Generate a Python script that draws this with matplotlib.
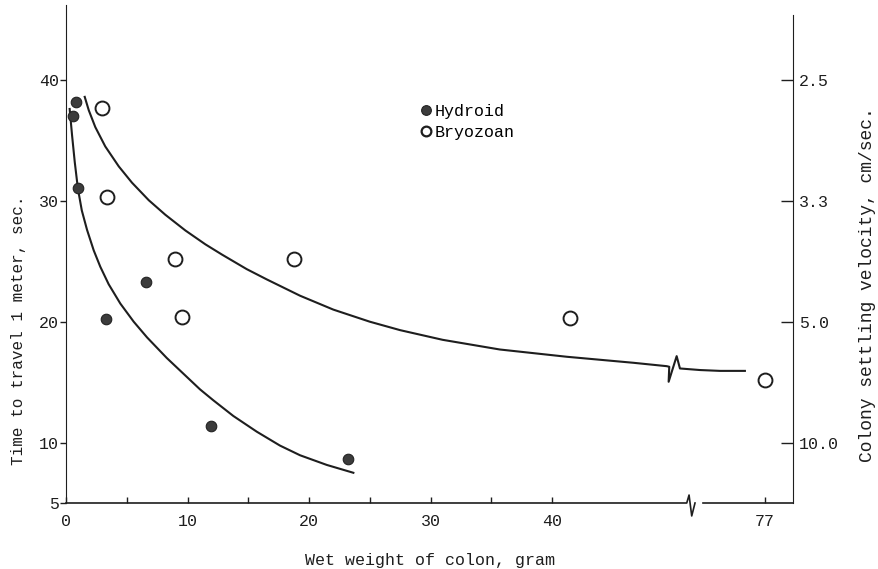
import numpy as np
import matplotlib
matplotlib.use('Agg')
from matplotlib import pyplot as plt
from matplotlib.lines import Line2D
from matplotlib.transforms import blended_transform_factory

plt.rcParams['font.family'] = ['Liberation Mono', 'DejaVu Sans Mono']

# points (wet weight in gram, time in sec)
hydroid_weight = [0.8, 0.6, 1.0, 3.3, 6.6, 11.9, 23.2]
hydroid_time = [38.2, 37.0, 31.1, 20.2, 23.3, 11.4, 8.6]

bryozoan_weight = [3.0, 3.35, 8.95, 9.55, 18.8, 41.5, 77]
bryozoan_time = [37.7, 30.3, 25.2, 20.4, 25.2, 20.3, 15.2]

# hand drawn fitted curves, traced
hydroid_curve_weight = [0.30, 0.50, 0.72, 0.98, 1.30, 1.73, 2.28, 2.82, 3.51, 4.47,
                        5.57, 6.67, 8.29, 11.03, 12.12, 13.77, 15.70, 17.61, 19.26,
                        21.46, 23.65]
hydroid_curve_time = [37.6, 35.4, 33.2, 31.0, 29.2, 27.6, 25.9, 24.55, 23.1, 21.5,
                      20.0, 18.7, 17.0, 14.4, 13.5, 12.2, 10.9, 9.75, 8.95,
                      8.15, 7.5]

bryozoan_curve_weight = [1.54, 1.87, 2.41, 3.23, 4.34, 5.43, 6.81, 8.17, 9.82, 11.47,
                         12.84, 14.87, 16.52, 19.26, 22.0, 25.0, 27.5, 31.0,
                         35.7, 41.2, 46.7, 49.44,
                         49.65, 49.60, 50.26, 50.53, 54.4, 61.4, 70.1]
bryozoan_curve_time = [38.6, 37.5, 36.1, 34.5, 32.85, 31.5, 30.05, 28.85, 27.55, 26.4,
                       25.55, 24.35, 23.5, 22.15, 21.0, 20.0, 19.3, 18.5,
                       17.7, 17.1, 16.6, 16.32,
                       16.27, 15.03, 17.15, 16.13, 16.0, 15.93, 15.93]

x_ticks = [0, 5, 10, 15, 20, 25, 30, 35, 40, 77]
x_tick_labels = ['0', '', '10', '', '20', '', '30', '', '40', '77']
time_ticks = [40, 30, 20, 10, 5]
velocity_ticks = [2.5, 10 / 3, 5.0, 10.0]
velocity_labels = ['2.5', '3.3', '5.0', '10.0']

# x axis is broken after ~51.5 g, the rest is squeezed
BREAK = 51.5
SQUEEZE = 0.2353


def xpos(w):
    w = np.asarray(w, dtype=float)
    return np.where(w <= BREAK, w, BREAK + (w - BREAK) * SQUEEZE)


ink = '#1e1e1e'
fig = plt.figure(figsize=(8.79, 5.69), dpi=100)
ax = fig.add_axes([0.0751, 0.1160, 0.8274, 0.8752])

ax.plot(xpos(hydroid_curve_weight), hydroid_curve_time, color=ink, lw=1.5)
ax.plot(xpos(bryozoan_curve_weight), bryozoan_curve_time, color=ink, lw=1.5)

ax.plot(xpos(hydroid_weight), hydroid_time, 'o', ms=7.6, color='#3c3c3c', mec='#222222', mew=0.8)
ax.plot(xpos(bryozoan_weight), bryozoan_time, 'o', ms=10, mfc='white', mec=ink, mew=1.4,
        clip_on=False)

ax.set_xlim(0, 59.86)
ax.set_ylim(5, 46.2)

ax.set_xticks(xpos(x_ticks))
ax.set_xticklabels(x_tick_labels)
ax.set_yticks(time_ticks)
ax.set_yticklabels([str(t) for t in time_ticks])
ax.tick_params(axis='x', direction='in', length=4, width=1, pad=8, labelsize=12, colors=ink)
ax.tick_params(axis='y', direction='out', length=4, width=1, pad=1, labelsize=12, colors=ink)

for side in ['top', 'right', 'bottom']:
    ax.spines[side].set_visible(False)
ax.spines['left'].set_color(ink)

# bottom axis with the break mark
trans = blended_transform_factory(ax.transData, ax.transAxes)
ax.plot([0, 51.09, 51.28, 51.50, 51.77], [0, 0, 0.016, -0.026, 0], color=ink, lw=1.2,
        transform=trans, clip_on=False)
ax.plot([52.45, 59.86], [0, 0], color=ink, lw=1.2, transform=trans, clip_on=False)

ax2 = ax.twinx()
ax2.set_ylim(ax.get_ylim())
ax2.set_yticks([100 / v for v in velocity_ticks])
ax2.set_yticklabels(velocity_labels)
ax2.tick_params(axis='y', direction='in', length=9, width=1, pad=4, labelsize=12, colors=ink)
for side in ['top', 'left', 'bottom']:
    ax2.spines[side].set_visible(False)
ax2.spines['right'].set_bounds(5, 45.4)
ax2.spines['right'].set_color(ink)

ax.set_xlabel('Wet weight of colon, gram', fontsize=12, color=ink)
ax.xaxis.set_label_coords(0.5005, -0.100)
ax.set_ylabel('Time to travel 1 meter, sec.', fontsize=11.5, color=ink)
ax.yaxis.set_label_coords(-0.055, 0.347)
ax2.set_ylabel('Colony settling velocity, cm/sec.', fontsize=13, color=ink, rotation=90)
ax2.yaxis.set_label_coords(1.091, 0.438)

handles = [
    Line2D([], [], ls='', marker='o', ms=7, color='#3c3c3c', mec='#222222', mew=0.8),
    Line2D([], [], ls='', marker='o', ms=7, mfc='white', mec=ink, mew=1.6),
]
ax.legend(handles, ['Hydroid', 'Bryozoan'], loc='upper left', bbox_to_anchor=(0.487, 0.801),
          frameon=False, handlelength=0.7, handletextpad=0.15, labelspacing=0.35,
          borderpad=0, borderaxespad=0, fontsize=12)

fig.savefig('out.png', dpi=100)
